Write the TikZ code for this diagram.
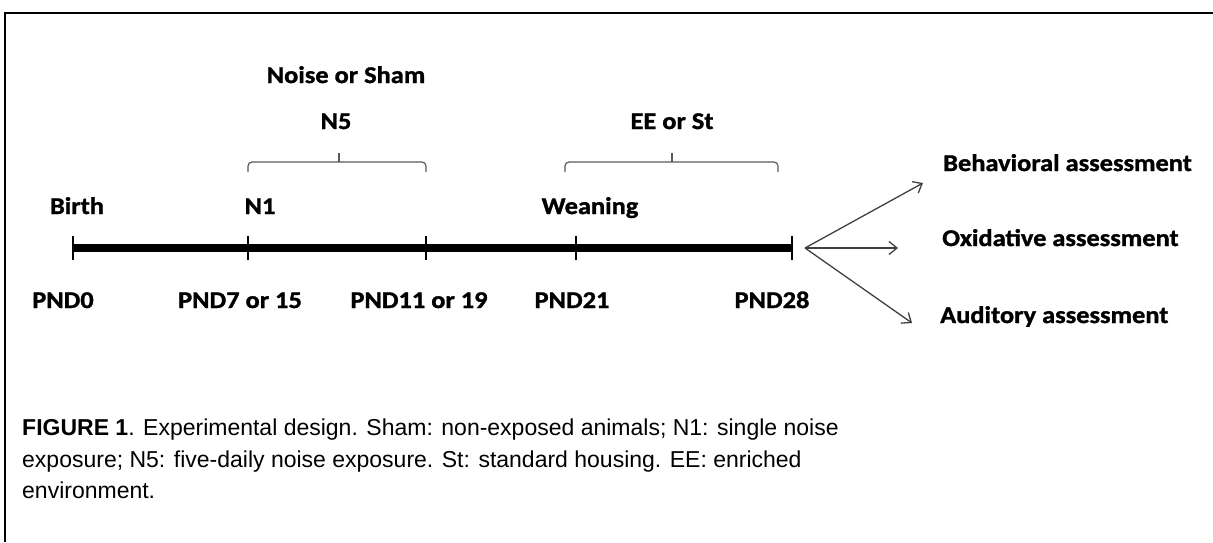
\documentclass[tikz,border=0pt]{standalone}
\usepackage{fontspec}
\setmainfont{Liberation Sans}
\newfontfamily\lblfont[FakeStretch=1.1, BoldFeatures={FakeBold=1.3}]{Carlito}
\usetikzlibrary{arrows.meta}
\begin{document}
\begin{tikzpicture}[x=1pt,y=-1pt,
  lab/.style={font=\lblfont\bfseries\fontsize{24}{28}\selectfont, inner sep=0pt, anchor=base},
  tick/.style={line width=2.7pt},
  brace/.style={draw=black!65, line width=1.2pt, rounded corners=4pt},
  outarrow/.style={draw=black!75, line width=1.3pt, -{Straight Barb[length=8pt,width=13pt,line width=1.3pt]}},
  caption/.style={font=\fontsize{23}{31.5}\selectfont, inner sep=0pt, align=left, anchor=north west}]
\useasboundingbox (0,0) rectangle (1213,542);
% frame
\draw[line width=2.5pt] (5,542) -- (5,13) -- (1213,13);
% timeline points
\coordinate (t0) at (73,248);
\coordinate (t1) at (248,248);
\coordinate (t2) at (426,248);
\coordinate (t3) at (576,248);
\coordinate (t4) at (792,248);
\draw[line width=8pt] (t0) -- (t4);
\foreach \t in {t0,t1,t2,t3,t4}{
  \draw[tick] ([yshift=-12pt]\t) -- ([yshift=12pt]\t);
}
% labels above
\node[lab] (birth) at (77,214) {Birth};
\node[lab] (n1) at (260,214) {N1};
\node[lab] (wean) at (590,214) {Weaning};
\node[lab] (noise) at (346,83) {Noise or Sham};
\node[lab] (n5) at (336,129) {N5};
\node[lab] (ee) at (672,129) {EE or St};
% labels below
\node[lab] (p0) at (63,308) {PND0};
\node[lab] (p7) at (240,308) {PND7 or 15};
\node[lab] (p11) at (419,308) {PND11 or 19};
\node[lab] (p21) at (572,308) {PND21};
\node[lab] (p28) at (772,308) {PND28};
% braces
\draw[brace] (248,172) -- (248,162) -- (426,162) -- (426,172);
\draw[brace, rounded corners=0pt] (339,162) -- (339,153);
\draw[brace] (565,172) -- (565,162) -- (778,162) -- (778,172);
\draw[brace, rounded corners=0pt] (672,162) -- (672,153);
% assessments
\node[lab, anchor=base west] (beh) at (943,171) {Behavioral assessment};
\node[lab, anchor=base west] (oxi) at (942,246) {Oxidative assessment};
\node[lab, anchor=base west] (aud) at (940,323) {Auditory assessment};
\coordinate (fork) at (805,248);
\coordinate (eb) at (923,183);
\coordinate (eo) at (898,248);
\coordinate (ea) at (912,323);
\draw[outarrow] (fork) -- (eb);
\draw[outarrow] (fork) -- (eo);
\draw[outarrow] (fork) -- (ea);
% caption
\node[caption] (cap) at (22,419) {\textbf{FIGURE 1}. Experimental design. Sham: non-exposed animals; N1: single noise\\exposure; N5: five-daily noise exposure. St: standard housing. EE: enriched\\environment.};
\end{tikzpicture}
\end{document}
